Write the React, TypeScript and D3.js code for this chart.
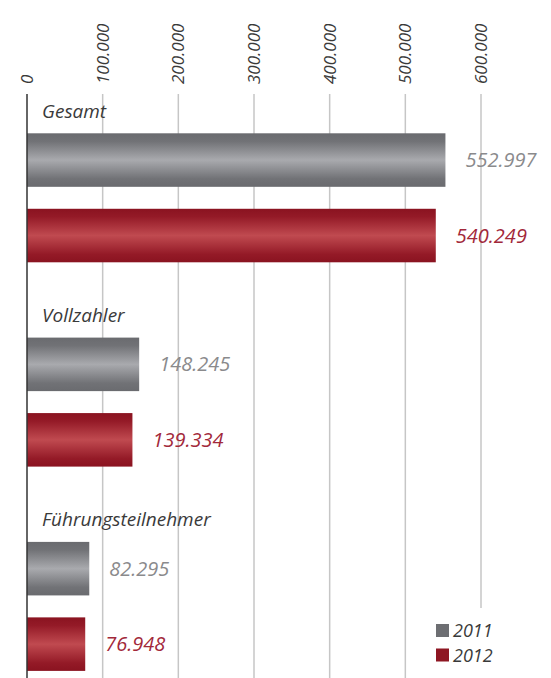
import React from "react";
import * as d3 from "d3";

const categories = ["Gesamt", "Vollzahler", "Führungsteilnehmer"];
const years = ["2011", "2012"];
const values2011 = [552997, 148245, 82295];
const values2012 = [540249, 139334, 76948];
const ticks = [0, 100000, 200000, 300000, 400000, 500000, 600000];

const W = 551;
const H = 678;
const FONT = "'Open Sans', sans-serif";
const fmt = (v: number) => d3.format(",")(v).replace(/,/g, ".");

export default function App() {
  const x = d3.scaleLinear().domain([0, 600000]).range([27, 481]);
  const yOuter = d3.scaleBand<string>().domain(categories).range([112.3, 112.3 + 204.3 * 3]).paddingInner(0);
  const yInner = d3.scaleBand<string>().domain(years).range([21, 150]).paddingInner(0.291).paddingOuter(0);
  const series: Record<string, number[]> = { "2011": values2011, "2012": values2012 };
  const textColor: Record<string, string> = { "2011": "#8a8a8c", "2012": "#a2283a" };
  const fillId: Record<string, string> = { "2011": "url(#gGray)", "2012": "url(#gRed)" };
  const legendColor: Record<string, string> = { "2011": "#6d6e72", "2012": "#8e1622" };

  return (
    <svg width={W} height={H} style={{ position: "absolute", left: 0, top: 0, background: "#fff" }} fontFamily={FONT}>
      <defs>
        <linearGradient id="gGray" x1="0" y1="0" x2="0" y2="1">
          <stop offset="0" stopColor="#6a6b6f" />
          <stop offset="0.15" stopColor="#717276" />
          <stop offset="0.5" stopColor="#a9aaae" />
          <stop offset="0.85" stopColor="#717276" />
          <stop offset="1" stopColor="#6a6b6f" />
        </linearGradient>
        <linearGradient id="gRed" x1="0" y1="0" x2="0" y2="1">
          <stop offset="0" stopColor="#8a1320" />
          <stop offset="0.15" stopColor="#941a27" />
          <stop offset="0.5" stopColor="#c04a50" />
          <stop offset="0.85" stopColor="#941a27" />
          <stop offset="1" stopColor="#8a1320" />
        </linearGradient>
      </defs>
      {ticks.slice(1).map((t) => (
        <line key={t} x1={x(t)} x2={x(t)} y1={94} y2={H} stroke="#c6c6c6" strokeWidth={1.5} />
      ))}
      {ticks.map((t) => (
        <text
          key={"l" + t}
          transform={`translate(${x(t) + 6},84) rotate(-90)`}
          fontSize={17}
          fontStyle="italic"
          fill="#3a3a3a"
        >
          {fmt(t)}
        </text>
      ))}
      {categories.map((c, i) => {
        const g = yOuter(c)!;
        return (
          <g key={c}>
            <text x={42} y={g + 5.5} fontSize={19} fontStyle="italic" fill="#3a3a3a">
              {c}
            </text>
            {years.map((yr) => {
              const v = series[yr][i];
              const y0 = g + yInner(yr)!;
              const bh = yInner.bandwidth();
              return (
                <g key={yr}>
                  <rect x={x(0)} y={y0} width={x(v) - x(0)} height={bh} fill={fillId[yr]} />
                  <text
                    x={x(v) + 20}
                    y={y0 + bh / 2}
                    dy="0.35em"
                    fontSize={20}
                    fontStyle="italic"
                    fill={textColor[yr]}
                  >
                    {fmt(v)}
                  </text>
                </g>
              );
            })}
          </g>
        );
      })}
      <line x1={x(0)} x2={x(0)} y1={94} y2={H} stroke="#333" strokeWidth={1.5} />
      <rect x={410} y={608} width={141} height={70} fill="#fff" />
      {years.map((yr, i) => (
        <g key={"lg" + yr}>
          <rect x={436} y={624 + i * 24.5} width={13} height={13} fill={legendColor[yr]} />
          <text x={453} y={637 + i * 24.5} fontSize={18} fontStyle="italic" fill="#3a3a3a">
            {yr}
          </text>
        </g>
      ))}
    </svg>
  );
}
